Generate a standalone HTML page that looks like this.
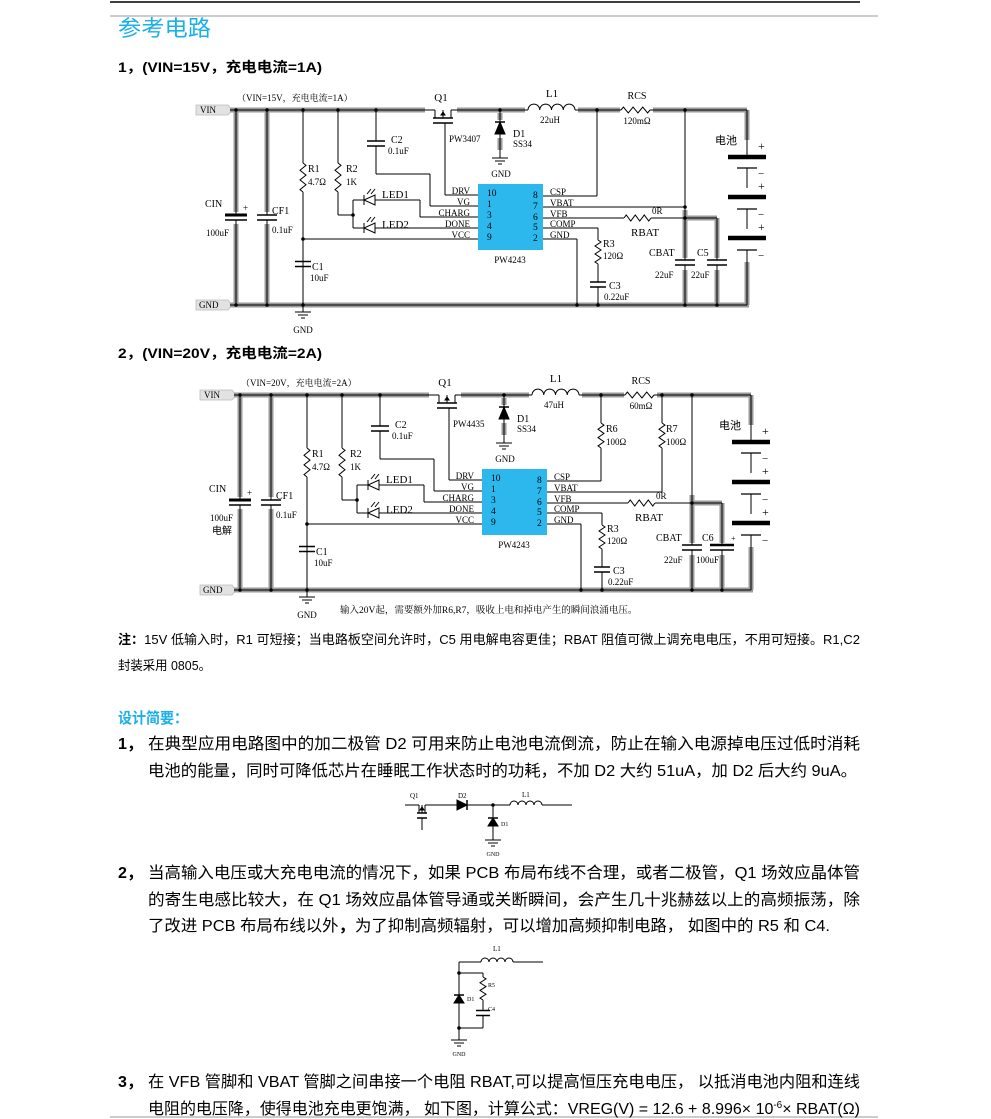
<!DOCTYPE html>
<html><head><meta charset="utf-8"><style>
html,body{margin:0;padding:0;background:#fff;width:991px;height:1119px;overflow:hidden}
svg{display:block}
.s{font-family:"Liberation Sans","Noto Sans CJK SC",sans-serif}
.r{font-family:"Liberation Serif","Noto Serif CJK SC",serif}
</style></head><body>
<svg id="S" width="991" height="1119" viewBox="0 0 991 1119" xmlns="http://www.w3.org/2000/svg">
<line x1="110" y1="2" x2="860" y2="2" stroke="#000" stroke-width="1.5"/>
<line x1="110" y1="16" x2="878" y2="16" stroke="#ccc" stroke-width="2"/>
<line x1="110" y1="1117" x2="878" y2="1117" stroke="#ccc" stroke-width="2"/>
<g class="s">
<text x="118" y="36" font-size="22" fill="#1ab0e8" textLength="93" lengthAdjust="spacingAndGlyphs">参考电路</text>
<text x="118" y="72" font-size="14" font-weight="bold" textLength="204" lengthAdjust="spacingAndGlyphs">1，(VIN=15V，充电电流=1A)</text>
<text x="118" y="358" font-size="14" font-weight="bold" textLength="204" lengthAdjust="spacingAndGlyphs">2，(VIN=20V，充电电流=2A)</text>
<text x="118" y="644" font-size="13" textLength="742" lengthAdjust="spacingAndGlyphs"><tspan font-weight="bold">注：</tspan>15V 低输入时，R1 可短接；当电路板空间允许时，C5 用电解电容更佳；RBAT 阻值可微上调充电电压，不用可短接。R1,C2</text>
<text x="118" y="670" font-size="13" textLength="93" lengthAdjust="spacingAndGlyphs">封装采用 0805。</text>
<text x="118" y="723" font-size="15" font-weight="bold" fill="#1ab0e8" textLength="70" lengthAdjust="spacingAndGlyphs">设计简要：</text>
<g font-size="16">
<text x="118" y="749" font-weight="bold">1，</text>
<text x="148" y="749" textLength="712" lengthAdjust="spacingAndGlyphs">在典型应用电路图中的加二极管 D2 可用来防止电池电流倒流，防止在输入电源掉电压过低时消耗</text>
<text x="148" y="776" textLength="709" lengthAdjust="spacingAndGlyphs">电池的能量，同时可降低芯片在睡眠工作状态时的功耗，不加 D2 大约 51uA，加 D2 后大约 9uA。</text>
<text x="118" y="878" font-weight="bold">2，</text>
<text x="148" y="878" textLength="712" lengthAdjust="spacingAndGlyphs">当高输入电压或大充电电流的情况下，如果 PCB 布局布线不合理，或者二极管，Q1 场效应晶体管</text>
<text x="148" y="905" textLength="712" lengthAdjust="spacingAndGlyphs">的寄生电感比较大，在 Q1 场效应晶体管导通或关断瞬间，会产生几十兆赫兹以上的高频振荡，除</text>
<text x="148" y="931" textLength="682" lengthAdjust="spacingAndGlyphs">了改进 PCB 布局布线以外<tspan font-weight="bold">，</tspan>为了抑制高频辐射，可以增加高频抑制电路，  如图中的 R5 和 C4.</text>
<text x="118" y="1087" font-weight="bold">3，</text>
<text x="148" y="1087" textLength="712" lengthAdjust="spacingAndGlyphs">在 VFB 管脚和 VBAT 管脚之间串接一个电阻 RBAT,可以提高恒压充电电压， 以抵消电池内阻和连线</text>
<text x="148" y="1114" textLength="712" lengthAdjust="spacingAndGlyphs">电阻的电压降，使得电池充电更饱满， 如下图，计算公式：VREG(V)  = 12.6 + 8.996× 10<tspan font-size="10" dy="-6">-6</tspan><tspan dy="6">× RBAT(Ω)</tspan></text>
</g>
</g>
<g id="C1"></g><g id="C2" transform="translate(4,285)"></g><g id="SM"></g>
</svg>
<script>
var NS="http://www.w3.org/2000/svg";
function el(p,t,a,txt){var e=document.createElementNS(NS,t);for(var k in a)e.setAttribute(k,a[k]);if(txt!=null)e.textContent=txt;p.appendChild(e);return e;}
function mk(g){
 var o={};
 o.L=function(x1,y1,x2,y2,c,w){el(g,'line',{x1:x1,y1:y1,x2:x2,y2:y2,stroke:c||'#000','stroke-width':w||1});};
 o.G=function(x1,y1,x2,y2){el(g,'line',{x1:x1,y1:y1,x2:x2,y2:y2,stroke:'#9a9a9a','stroke-width':5});};
 o.P=function(d,f,w){el(g,'path',{d:d,fill:f||'none',stroke:'#000','stroke-width':w||1});};
 o.D=function(x,y){el(g,'circle',{cx:x,cy:y,r:1.8,fill:'#000'});};
 o.T=function(x,y,s,sz,anc,cls){el(g,'text',{x:x,y:y,'font-size':sz||10,'text-anchor':anc||'start','class':cls||'r'},s);};
 o.RV=function(x,y1,y2){var d='M'+x+' '+y1,n=6,h=(y2-y1)/n;for(var i=0;i<n;i++){d+=' L'+(x+(i%2?-3:3))+' '+(y1+h*(i+0.5));}d+=' L'+x+' '+y2;o.P(d);};
 o.RH=function(x1,x2,y){var d='M'+x1+' '+y,n=6,h=(x2-x1)/n;for(var i=0;i<n;i++){d+=' L'+(x1+h*(i+0.5))+' '+(y+(i%2?3:-3));}d+=' L'+x2+' '+y;o.P(d);};
 o.CV=function(x,y,w,th){o.L(x-w,y-2.5,x+w,y-2.5,'#000',th||1.5);o.L(x-w,y+2.5,x+w,y+2.5,'#000',th||1.5);};
 o.IND=function(x1,x2,y){var n=4,w=(x2-x1)/n,d='M'+x1+' '+y;for(var i=0;i<n;i++){d+=' a'+(w/2)+' '+(w/2)+' 0 0 1 '+w+' 0';}o.P(d);};
 o.GNDs=function(x,y){o.L(x-8,y,x+8,y);o.L(x-5,y+3,x+5,y+3);o.L(x-2,y+6,x+2,y+6);};
 o.DUP=function(x,yb,yt){o.P('M'+(x-5)+' '+yb+' L'+(x+5)+' '+yb+' L'+x+' '+yt+' Z','#000');o.L(x-5,yt,x+5,yt,'#000',1.5);};
 o.DL=function(xr,xl,y){o.P('M'+xr+' '+(y-5)+' L'+xr+' '+(y+5)+' L'+xl+' '+y+' Z','#fff');o.L(xl,y-5,xl,y+5);o.L(xl+3,y-6,xl+7,y-11);o.L(xl+7,y-6,xl+11,y-11);};
 o.DR=function(xl,xr,y){o.P('M'+xl+' '+(y-5)+' L'+xl+' '+(y+5)+' L'+xr+' '+y+' Z','#000');o.L(xr,y-5,xr,y+5,'#000',1.5);};
 o.MOS=function(x1,x2,y){
  o.L(x1,y,x1+5,y);o.L(x1+5,y,x1+5,y+8);o.L(x2,y,x2-5,y);o.L(x2-5,y,x2-5,y+8);
  o.L(x1+3,y+8,x2-3,y+8,'#000',1.5);o.L(x1+3,y+13,x2-3,y+13,'#000',1.5);
  var m=(x1+x2)/2;o.L(m,y+8,m,y+2);o.P('M'+(m-2)+' '+(y+5)+' L'+(m+2)+' '+(y+5)+' L'+m+' '+(y+2)+' Z','#000');o.L(m,y,m,y+2);
 };
 return o;
}
function circuit(g,v2){
 var o=mk(g);
 var Y=110,B=305;
 el(g,'path',{d:'M196 105 L228 105 L232 110 L228 115 L196 115 Z',fill:'#e2e2e2',stroke:'#bbb','stroke-width':0.8});
 el(g,'path',{d:'M196 300 L228 300 L232 305 L228 310 L196 310 Z',fill:'#e2e2e2',stroke:'#bbb','stroke-width':0.8});
 o.T(200,113,'VIN',9);o.T(199,308,'GND',9);
 o.G(230,Y,425,Y);o.G(457,Y,525,Y);o.G(578,Y,620,Y);o.G(653,Y,747,Y);
 o.G(747,Y,747,140);o.G(747,262,747,B);o.G(230,B,749,B);
 o.G(236,Y,236,212);o.G(236,224,236,B);o.G(267,Y,267,212);o.G(267,224,267,B);
 o.G(685+(v2?3:0),210,685+(v2?3:0),258);o.G(685+(v2?3:0),270,685+(v2?3:0),B);
 var cx5=v2?718:717;
 o.G(685+(v2?3:0),218,cx5,218);o.G(cx5,218,cx5,258);o.G(cx5,270,cx5,B);
 o.G(500,113,500,120);o.G(500,138,500,150);
 o.L(230,Y,430,Y);o.L(455,Y,528,Y);o.IND(528,575,Y);o.L(575,Y,621,Y);o.RH(621,650,Y);o.L(650,Y,747,Y);
 o.L(747,Y,747,140);o.L(747,262,747,B);o.L(230,B,747,B);
 o.MOS(430,456,Y);
 o.L(236,Y,236,215);o.L(236,220,236,B);o.L(225,215,247,215,'#000',3);o.L(225,220,247,220,'#000',1.5);
 o.T(243,211,'+',9);
 o.L(267,Y,267,215);o.L(267,220,267,B);o.CV(267,217.5,10,1.5);
 o.D(236,Y);o.D(267,Y);o.D(236,B);o.D(267,B);
 o.T(205,207,'CIN',10);o.T(206,236,'100uF',9);if(v2)o.T(208,249,'电解',10,'start','s');
 o.T(272,214,'CF1',10);o.T(272,233,'0.1uF',9);
 o.L(303,Y,303,163);o.RV(303,163,192);o.L(303,192,303,B);o.D(303,Y);o.D(303,239);o.D(303,B);
 o.CV(303,264,8);o.L(303,B,303,312);o.GNDs(303,312);o.T(303,333,'GND',9,'middle');
 o.T(308,172,'R1',10);o.T(308,185,'4.7Ω',9);o.T(312,270,'C1',10);o.T(310,281,'10uF',9);
 o.L(303,239,478,239);
 o.L(338,Y,338,163);o.RV(338,163,192);o.L(338,192,338,215);o.L(338,215,353,215);o.D(338,Y);o.D(353,215);
 o.L(353,200,353,228);o.L(353,200,364,200);o.DL(375,364,200);o.L(375,200,420,200);o.L(420,200,420,217);o.L(420,217,478,217);
 o.L(353,228,364,228);o.DL(375,364,228);o.L(375,228,478,228);
 o.T(346,172,'R2',10);o.T(346,185,'1K',9);o.T(382,198,'LED1',11);o.T(382,228,'LED2',11);
 o.L(376,Y,376,141);o.CV(376,143.5,9);o.L(376,146,376,174);o.L(376,174,430,174);o.L(430,174,430,206);o.L(430,206,478,206);o.D(376,Y);
 o.T(391,143,'C2',10);o.T(388,154,'0.1uF',9);
 o.L(445,123,445,195);o.L(445,195,478,195);
 o.T(441,101,'Q1',11,'middle');o.T(449,142,v2?'PW4435':'PW3407',9);
 o.D(500,Y);o.L(500,Y,500,122);o.DUP(500,134,122);o.L(500,134,500,158);o.GNDs(500,158);o.T(501,177,'GND',9,'middle');
 o.T(513,137,'D1',10);o.T(513,147,'SS34',9);
 o.T(552,97,'L1',11,'middle');o.T(550,123,v2?'47uH':'22uH',9,'middle');
 o.T(637,99,'RCS',10,'middle');o.T(637,124,v2?'60mΩ':'120mΩ',9,'middle');
 el(g,'rect',{x:478,y:184,width:65,height:66,fill:'#2cb8ec'});
 var pl=[['DRV','10',195],['VG','1',206],['CHARG','3',217],['DONE','4',228],['VCC','9',239]];
 pl.forEach(function(p){o.T(470,p[2]-1,p[0],9,'end');o.T(487,p[2]+1,p[1],9.5);});
 var pr=[['CSP','8',196],['VBAT','7',207],['VFB','6',218],['COMP','5',228],['GND','2',239]];
 pr.forEach(function(p){o.T(550,p[2]-1,p[0],9);o.T(533,p[2]+2,p[1],9.5);});
 o.T(510,263,'PW4243',9,'middle');
 var xn=v2?688:685;
 if(!v2){o.L(543,196,597,196);o.L(597,Y,597,196);o.D(597,Y);o.L(543,207,685,207);o.D(685,207);}
 else{o.D(597,Y);o.L(597,Y,597,138);o.RV(597,138,163);o.L(597,163,597,196);o.L(543,196,597,196);
  o.T(602,147,'R6',10);o.T(602,160,'100Ω',9);
  o.D(658,Y);o.L(658,Y,658,138);o.RV(658,138,163);o.L(658,163,658,207);o.L(543,207,658,207);
  o.T(662,147,'R7',10);o.T(662,160,'100Ω',9);}
 o.D(xn,Y);o.L(xn,Y,xn,260);o.L(xn,265,xn,B);o.CV(xn,262.5,10,1.5);o.D(xn,B);o.D(xn,218);
 o.L(543,218,624,218);o.RH(624,651,218);o.L(651,218,cx5,218);o.L(cx5,218,cx5,260);o.L(cx5,265,cx5,B);
 if(v2){o.L(cx5-12,260,cx5+12,260,'#000',2.5);o.L(cx5-12,265,cx5+12,265,'#000',1.5);o.T(cx5+9,256,'+',8);}else o.CV(cx5,262.5,10,1.5);
 o.D(cx5,B);
 o.T(652,214,'0R',9);o.T(631,236,'RBAT',11);
 o.L(543,228,598,228);o.L(598,228,598,240);o.RV(598,240,264);o.L(598,264,598,282);o.CV(598,284.5,8);o.L(598,287,598,B);o.D(598,B);
 o.T(603,247,'R3',10);o.T(603,259,'120Ω',9);o.T(609,289,'C3',10);o.T(604,300,'0.22uF',9);
 o.L(543,239,577,239);o.L(577,239,577,B);o.D(577,B);
 o.T(v2?652:649,256,'CBAT',10);o.T(v2?660:655,278,'22uF',9);
 o.T(cx5-20,256,v2?'C6':'C5',10);o.T(cx5-26,278,v2?'100uF':'22uF',9);
 var bx=747;o.L(bx,140,bx,155);
 [[157,168],[197,209],[238,250]].forEach(function(c,i){o.L(bx-19,c[0],bx+19,c[0],'#000',4.5);o.L(bx-10,c[1],bx+10,c[1],'#000',1.2);
  o.L(bx,c[1],bx,c[1]+(i<2?20:12));o.T(bx+11,c[0]-7,'+',12);o.T(bx+11,c[1]+9,'−',11);});
 o.T(715,144,'电池',11,'start','s');
 o.T(237,101,v2?'（VIN=20V，充电电流=2A）':'（VIN=15V，充电电流=1A）',9,'start','r');
 if(v2)o.T(336,328,'输入20V起，需要额外加R6,R7，吸收上电和掉电产生的瞬间浪涌电压。',9.5,'start','r');
}
circuit(document.getElementById('C1'),false);
circuit(document.getElementById('C2'),true);
(function(){var g=document.getElementById('SM'),o=mk(g);
 o.T(410,798,'Q1',7);o.L(405,805,414,805);o.MOS(414,430,805);o.L(422,818,422,830);
 o.L(430,805,457,805);o.DR(457,467,805);o.T(458,798,'D2',7);o.L(467,805,510,805);o.D(493,805);
 o.IND(510,542,805);o.L(542,805,572,805);o.T(522,797,'L1',7);
 o.L(493,805,493,818);o.DUP(493,826,818);o.L(493,826,493,840);o.GNDs(493,840);o.T(493,856,'GND',6,'middle');o.T(501,826,'D1',6);
 o.T(493,951,'L1',7);o.L(459,962,481,962);o.IND(481,513,962);o.L(513,962,543,962);
 o.L(459,962,459,1040);o.D(459,973);o.D(459,1028);o.L(459,973,483,973);o.L(483,973,483,977);o.RV(483,977,1000);o.L(483,1000,483,1010);o.CV(483,1013,7);o.L(483,1016,483,1028);o.L(459,1028,483,1028);
 o.DUP(459,1003,995);o.T(467,1001,'D1',6);o.T(488,987,'R5',6);o.T(488,1011,'C4',6);
 o.GNDs(459,1040);o.T(459,1056,'GND',6,'middle');
})();
</script>
</body></html>
